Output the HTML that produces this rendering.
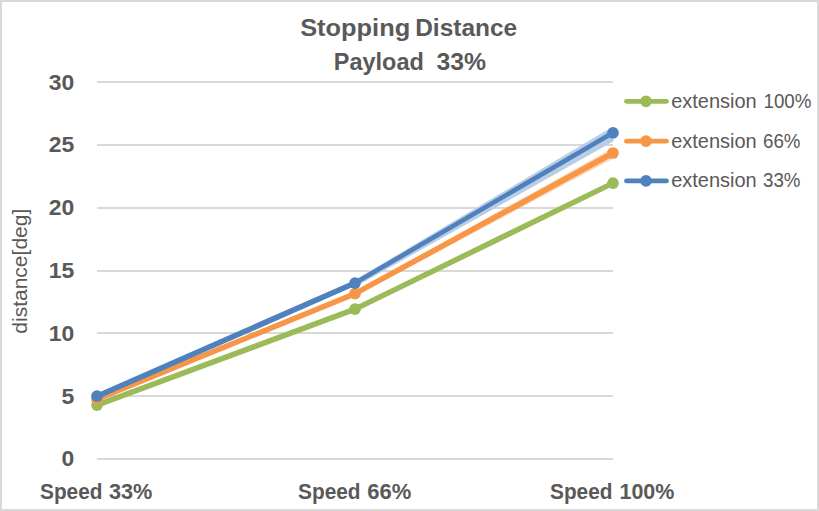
<!DOCTYPE html>
<html>
<head>
<meta charset="utf-8">
<style>
html,body{margin:0;padding:0;background:#fff;}
body{width:819px;height:511px;overflow:hidden;}
svg{display:block;}
text{font-family:"Liberation Sans",sans-serif;fill:#595959;}
.b{font-weight:bold;}
</style>
</head>
<body>
<svg width="819" height="511" viewBox="0 0 819 511">
<rect x="0" y="0" width="819" height="511" fill="#d9d9d9"/>
<rect x="2" y="2" width="815" height="507" fill="#fff"/>

<!-- title -->
<g class="b" font-size="24.8">
<text class="b" x="300.2" y="36" textLength="110" lengthAdjust="spacingAndGlyphs">Stopping</text>
<text class="b" x="415.2" y="36" textLength="102" lengthAdjust="spacingAndGlyphs">Distance</text>
<text class="b" x="333.8" y="70" textLength="90" lengthAdjust="spacingAndGlyphs">Payload</text>
<text class="b" x="436.5" y="70" textLength="49.6" lengthAdjust="spacingAndGlyphs">33%</text>
</g>

<!-- gridlines -->
<g fill="#d9d9d9">
<rect x="97" y="81" width="516" height="2"/>
<rect x="97" y="144" width="516" height="2"/>
<rect x="97" y="207" width="516" height="2"/>
<rect x="97" y="270" width="516" height="2"/>
<rect x="97" y="332" width="516" height="2"/>
<rect x="97" y="395" width="516" height="2"/>
<rect x="97" y="458" width="516" height="2"/>
</g>

<!-- y labels -->
<g font-size="22.9" text-anchor="end">
<text class="b" x="74.2" y="90">30</text>
<text class="b" x="74.2" y="152">25</text>
<text class="b" x="74.2" y="215">20</text>
<text class="b" x="74.2" y="278">15</text>
<text class="b" x="74.2" y="341">10</text>
<text class="b" x="74.2" y="404">5</text>
<text class="b" x="74.2" y="466">0</text>
</g>

<!-- y title -->
<text x="0" y="0" font-size="21" transform="translate(27,333.7) rotate(-90)" textLength="125" lengthAdjust="spacingAndGlyphs">distance[deg]</text>

<!-- x labels -->
<g class="b" font-size="22.3">
<text class="b" x="40" y="498.5" textLength="62.5" lengthAdjust="spacingAndGlyphs">Speed</text>
<text class="b" x="109" y="498.5" textLength="43.4" lengthAdjust="spacingAndGlyphs">33%</text>
<text class="b" x="298.1" y="498.5" textLength="62.5" lengthAdjust="spacingAndGlyphs">Speed</text>
<text class="b" x="367.3" y="498.5" textLength="44" lengthAdjust="spacingAndGlyphs">66%</text>
<text class="b" x="550" y="498.5" textLength="62.5" lengthAdjust="spacingAndGlyphs">Speed</text>
<text class="b" x="619.5" y="498.5" textLength="54.8" lengthAdjust="spacingAndGlyphs">100%</text>
</g>

<!-- light band -->
<polygon points="355,280 607,130 614,141 355,287" fill="#bacde6"/>

<polygon points="400,266.35 613,148.1 613,158.5 400,272.05" fill="#f79646" fill-opacity="0.4"/>

<!-- series -->
<g fill="none" stroke-width="5.5" stroke-linejoin="round" stroke-linecap="round">
<polyline points="97,405.2 355,309.1 613,183.1" stroke="#9bbb59"/>
<polyline points="97,399.1 355,293.7 613,153" stroke="#f79646"/>
<polyline points="97,396.2 355,283.1" stroke="#4f81bd"/>
<polyline points="355,283.1 613,132.8" stroke="#4f81bd" stroke-width="4.6"/>
</g>
<g>
<circle cx="97" cy="405.2" r="5.85" fill="#9bbb59"/>
<circle cx="355" cy="309.1" r="5.85" fill="#9bbb59"/>
<circle cx="613" cy="183.1" r="5.85" fill="#9bbb59"/>
<circle cx="97" cy="399.1" r="5.85" fill="#f79646"/>
<circle cx="355" cy="293.7" r="5.85" fill="#f79646"/>
<circle cx="613" cy="153" r="5.85" fill="#f79646"/>
<circle cx="97" cy="396.2" r="5.85" fill="#4f81bd"/>
<circle cx="355" cy="283.1" r="5.85" fill="#4f81bd"/>
<circle cx="613" cy="132.8" r="5.85" fill="#4f81bd"/>
</g>

<!-- legend -->
<g stroke-width="4.8" stroke-linecap="round">
<line x1="626.5" y1="101.3" x2="666.5" y2="101.3" stroke="#9bbb59"/>
<line x1="626.5" y1="141.2" x2="666.5" y2="141.2" stroke="#f79646"/>
<line x1="626.5" y1="180.9" x2="666.5" y2="180.9" stroke="#4f81bd"/>
</g>
<circle cx="646" cy="101.3" r="5.85" fill="#9bbb59"/>
<circle cx="646" cy="141.2" r="5.85" fill="#f79646"/>
<circle cx="646" cy="180.9" r="5.85" fill="#4f81bd"/>
<g font-size="19.6">
<text x="671.2" y="107.7" textLength="85.5" lengthAdjust="spacingAndGlyphs">extension</text>
<text x="763.5" y="107.7" textLength="48" lengthAdjust="spacingAndGlyphs">100%</text>
<text x="671.2" y="147.7" textLength="85.5" lengthAdjust="spacingAndGlyphs">extension</text>
<text x="763" y="147.7" textLength="37.5" lengthAdjust="spacingAndGlyphs">66%</text>
<text x="671.2" y="186.9" textLength="85.5" lengthAdjust="spacingAndGlyphs">extension</text>
<text x="763" y="186.9" textLength="37.5" lengthAdjust="spacingAndGlyphs">33%</text>
</g>
</svg>
</body>
</html>
